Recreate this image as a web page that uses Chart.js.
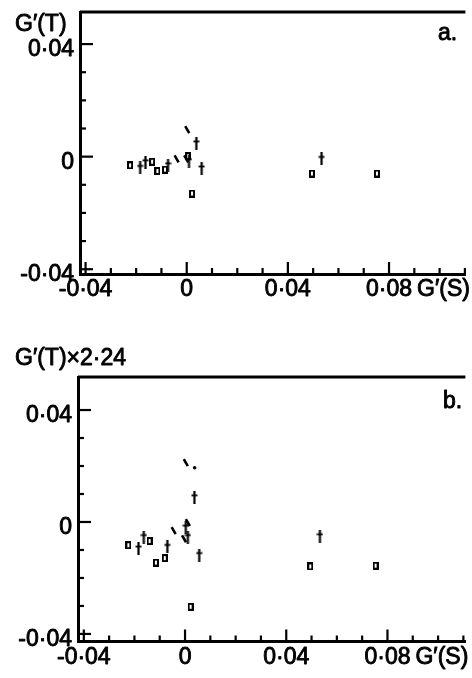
<!DOCTYPE html>
<html>
<head>
<meta charset="utf-8">
<script src="https://cdn.jsdelivr.net/npm/chart.js@4.4.1/dist/chart.umd.min.js"></script>
<style>
  html, body { margin: 0; padding: 0; background: #fff; width: 472px; height: 678px; overflow: hidden; }
  canvas { position: absolute; left: 0; display: block; }
  #panelA { top: 0; }
  #panelB { top: 340px; }
</style>
</head>
<body>
<canvas id="panelA" width="472" height="314"></canvas>
<canvas id="panelB" width="472" height="338"></canvas>
<script>
// ---- axis ticks ----
const xMajorTicks = [-0.04, 0, 0.04, 0.08];
const xTickLabels = ['-0·04', '0', '0·04', '0·08'];
const xMinorTicks = [-0.04, -0.03, -0.02, -0.01, 0, 0.01, 0.02, 0.03, 0.04, 0.05, 0.06, 0.07, 0.08, 0.09, 0.10, 0.11];
const yMajorTicks = [-0.04, 0, 0.04];
const yTickLabels = ['-0·04', '0', '0·04'];
const yMinorTicks = [-0.04, -0.03, -0.02, -0.01, 0, 0.01, 0.02, 0.03, 0.04];
const xAxisTitle = 'G′(S)';

// ---- panel a: G'(T) against G'(S) ----
const aSquareX = [-0.0224, -0.0137, -0.0116, -0.0086, 0.0005, 0.0021, 0.0495, 0.0752];
const aSquareY = [-0.0031, -0.0018, -0.0051, -0.0046, 0.0001, -0.0131, -0.0060, -0.0060];
const aCrossX  = [-0.0184, -0.0163, -0.0074, 0.0009, 0.0038, 0.0059, 0.0533];
const aCrossY  = [-0.0040, -0.0020, -0.0031, -0.0016, 0.0047, -0.0042, -0.0008];
const aDashX   = [-0.0040, 0.0002, -0.0002];
const aDashY   = [-0.0008, 0.0096, -0.0008];

// ---- panel b: G'(T) x 2.24 against G'(S) ----
const bSquareX = [-0.0224, -0.0140, -0.0115, -0.0080, 0.0022, 0.0495, 0.0753];
const bSquareY = [-0.0083, -0.0068, -0.0145, -0.0129, -0.0303, -0.0159, -0.0156];
const bCrossX  = [-0.0184, -0.0163, -0.0070, 0.0037, 0.0003, 0.0011, 0.0056, 0.0533];
const bCrossY  = [-0.0095, -0.0054, -0.0089, 0.0088, -0.0020, -0.0054, -0.0118, -0.0051];
const bDashX   = [-0.0045, 0.0003, 0.0011, -0.0004];
const bDashY   = [-0.0031, 0.0212, -0.0002, -0.0060];
const bDotX    = [0.0038];
const bDotY    = [0.0194];

const INK = '#000';
const FONT = '23px "Liberation Sans", Arial, sans-serif';

const pts = (xs, ys) => xs.map((v, i) => ({ x: v, y: ys[i] }));

// small marker glyphs drawn once on offscreen canvases
function glyph(w, h, draw) {
  const c = document.createElement('canvas');
  c.width = w; c.height = h;
  const g = c.getContext('2d');
  g.strokeStyle = INK; g.fillStyle = INK;
  draw(g);
  return c;
}
const squareMark = glyph(6, 8, g => { g.lineWidth = 2; g.strokeRect(1, 1, 4, 6); });
const crossMark = glyph(7, 13, g => {
  g.lineWidth = 2.2;
  g.beginPath(); g.moveTo(3.5, 0); g.lineTo(3.5, 13); g.stroke();
  g.lineWidth = 1.8;
  g.beginPath(); g.moveTo(0.5, 4.5); g.lineTo(6.5, 4.5); g.stroke();
});

function datasets(sqX, sqY, crX, crY, dsX, dsY, dtX, dtY) {
  const list = [
    { label: 'squares', data: pts(sqX, sqY), pointStyle: squareMark, pointRadius: 4 },
    { label: 'crosses', data: pts(crX, crY), pointStyle: crossMark, pointRadius: 4 },
    { label: 'dashes', data: pts(dsX, dsY), pointStyle: 'line', pointRadius: 4, pointRotation: 60,
      borderColor: INK, pointBorderColor: INK, pointBorderWidth: 2.6 }
  ];
  if (dtX) {
    list.push({ label: 'dots', data: pts(dtX, dtY), pointStyle: 'circle', pointRadius: 1.8,
      pointBackgroundColor: INK, pointBorderColor: INK, pointBorderWidth: 0 });
  }
  return list;
}

// frame top line, inward tick marks and all axis text
function frameAndLabels(o) {
  return {
    id: 'frameAndLabels',
    afterDraw(chart) {
      const { ctx, chartArea: ca, scales: { x, y } } = chart;
      const isMajor = (v, list) => list.some(m => Math.abs(m - v) < 1e-9);
      const seg = (x1, y1, x2, y2) => { ctx.beginPath(); ctx.moveTo(x1, y1); ctx.lineTo(x2, y2); ctx.stroke(); };
      ctx.save();
      ctx.strokeStyle = INK;
      ctx.lineWidth = 2.8;
      seg(ca.left, ca.top, ca.right, ca.top);
      ctx.lineWidth = 2.2;
      xMinorTicks.forEach(v => {
        const px = x.getPixelForValue(v);
        seg(px, ca.bottom, px, ca.bottom - (isMajor(v, xMajorTicks) ? 12 : 6));
      });
      yMinorTicks.forEach(v => {
        const py = y.getPixelForValue(v);
        seg(ca.left, py, ca.left + (isMajor(v, yMajorTicks) ? 13 : 6), py);
      });
      ctx.font = FONT;
      ctx.fillStyle = INK;
      ctx.lineWidth = 0.9;
      ctx.lineJoin = 'round';
      const txt = (s, tx, ty) => { ctx.fillText(s, tx, ty); ctx.strokeText(s, tx, ty); };
      ctx.textBaseline = 'alphabetic';
      ctx.textAlign = 'center';
      xMajorTicks.forEach((v, i) => txt(xTickLabels[i], x.getPixelForValue(v), ca.bottom + 22));
      ctx.textAlign = 'right';
      yMajorTicks.forEach((v, i) => txt(yTickLabels[i], ca.left - 6, y.getPixelForValue(v) + 12));
      ctx.textAlign = 'left';
      txt(xAxisTitle, x.getPixelForValue(0.08) + 28, ca.bottom + 22);
      txt(o.yTitle, 15, o.yTitleBase);
      txt(o.letter, o.letterX, o.letterBase);
      ctx.restore();
    }
  };
}

function axis(min, max) {
  return {
    type: 'linear', min, max,
    grid: { display: false },
    ticks: { display: false },
    border: { display: true, color: INK, width: 3 }
  };
}

function makeChart(id, data, xr, yr, pad, labels) {
  return new Chart(document.getElementById(id), {
    type: 'scatter',
    data: { datasets: data },
    options: {
      responsive: false,
      animation: false,
      events: [],
      layout: { padding: pad },
      scales: { x: axis(xr[0], xr[1]), y: axis(yr[0], yr[1]) },
      plugins: { legend: { display: false }, tooltip: { enabled: false } }
    },
    plugins: [frameAndLabels(labels)]
  });
}

makeChart('panelA',
  datasets(aSquareX, aSquareY, aCrossX, aCrossY, aDashX, aDashY),
  [-0.0422, 0.1102], [-0.0417, 0.0514],
  { left: 72, top: 12, right: 0, bottom: 32 },
  { yTitle: 'G′(T)', yTitleBase: 31, letter: 'a.', letterX: 438, letterBase: 40 });

makeChart('panelB',
  datasets(bSquareX, bSquareY, bCrossX, bCrossY, bDashX, bDashY, bDotX, bDotY),
  [-0.0423, 0.1108], [-0.0427, 0.0518],
  { left: 70, top: 37, right: 0, bottom: 28.5 },
  { yTitle: 'G′(T)×2·24', yTitleBase: 25, letter: 'b.', letterX: 443, letterBase: 68 });
</script>
</body>
</html>
